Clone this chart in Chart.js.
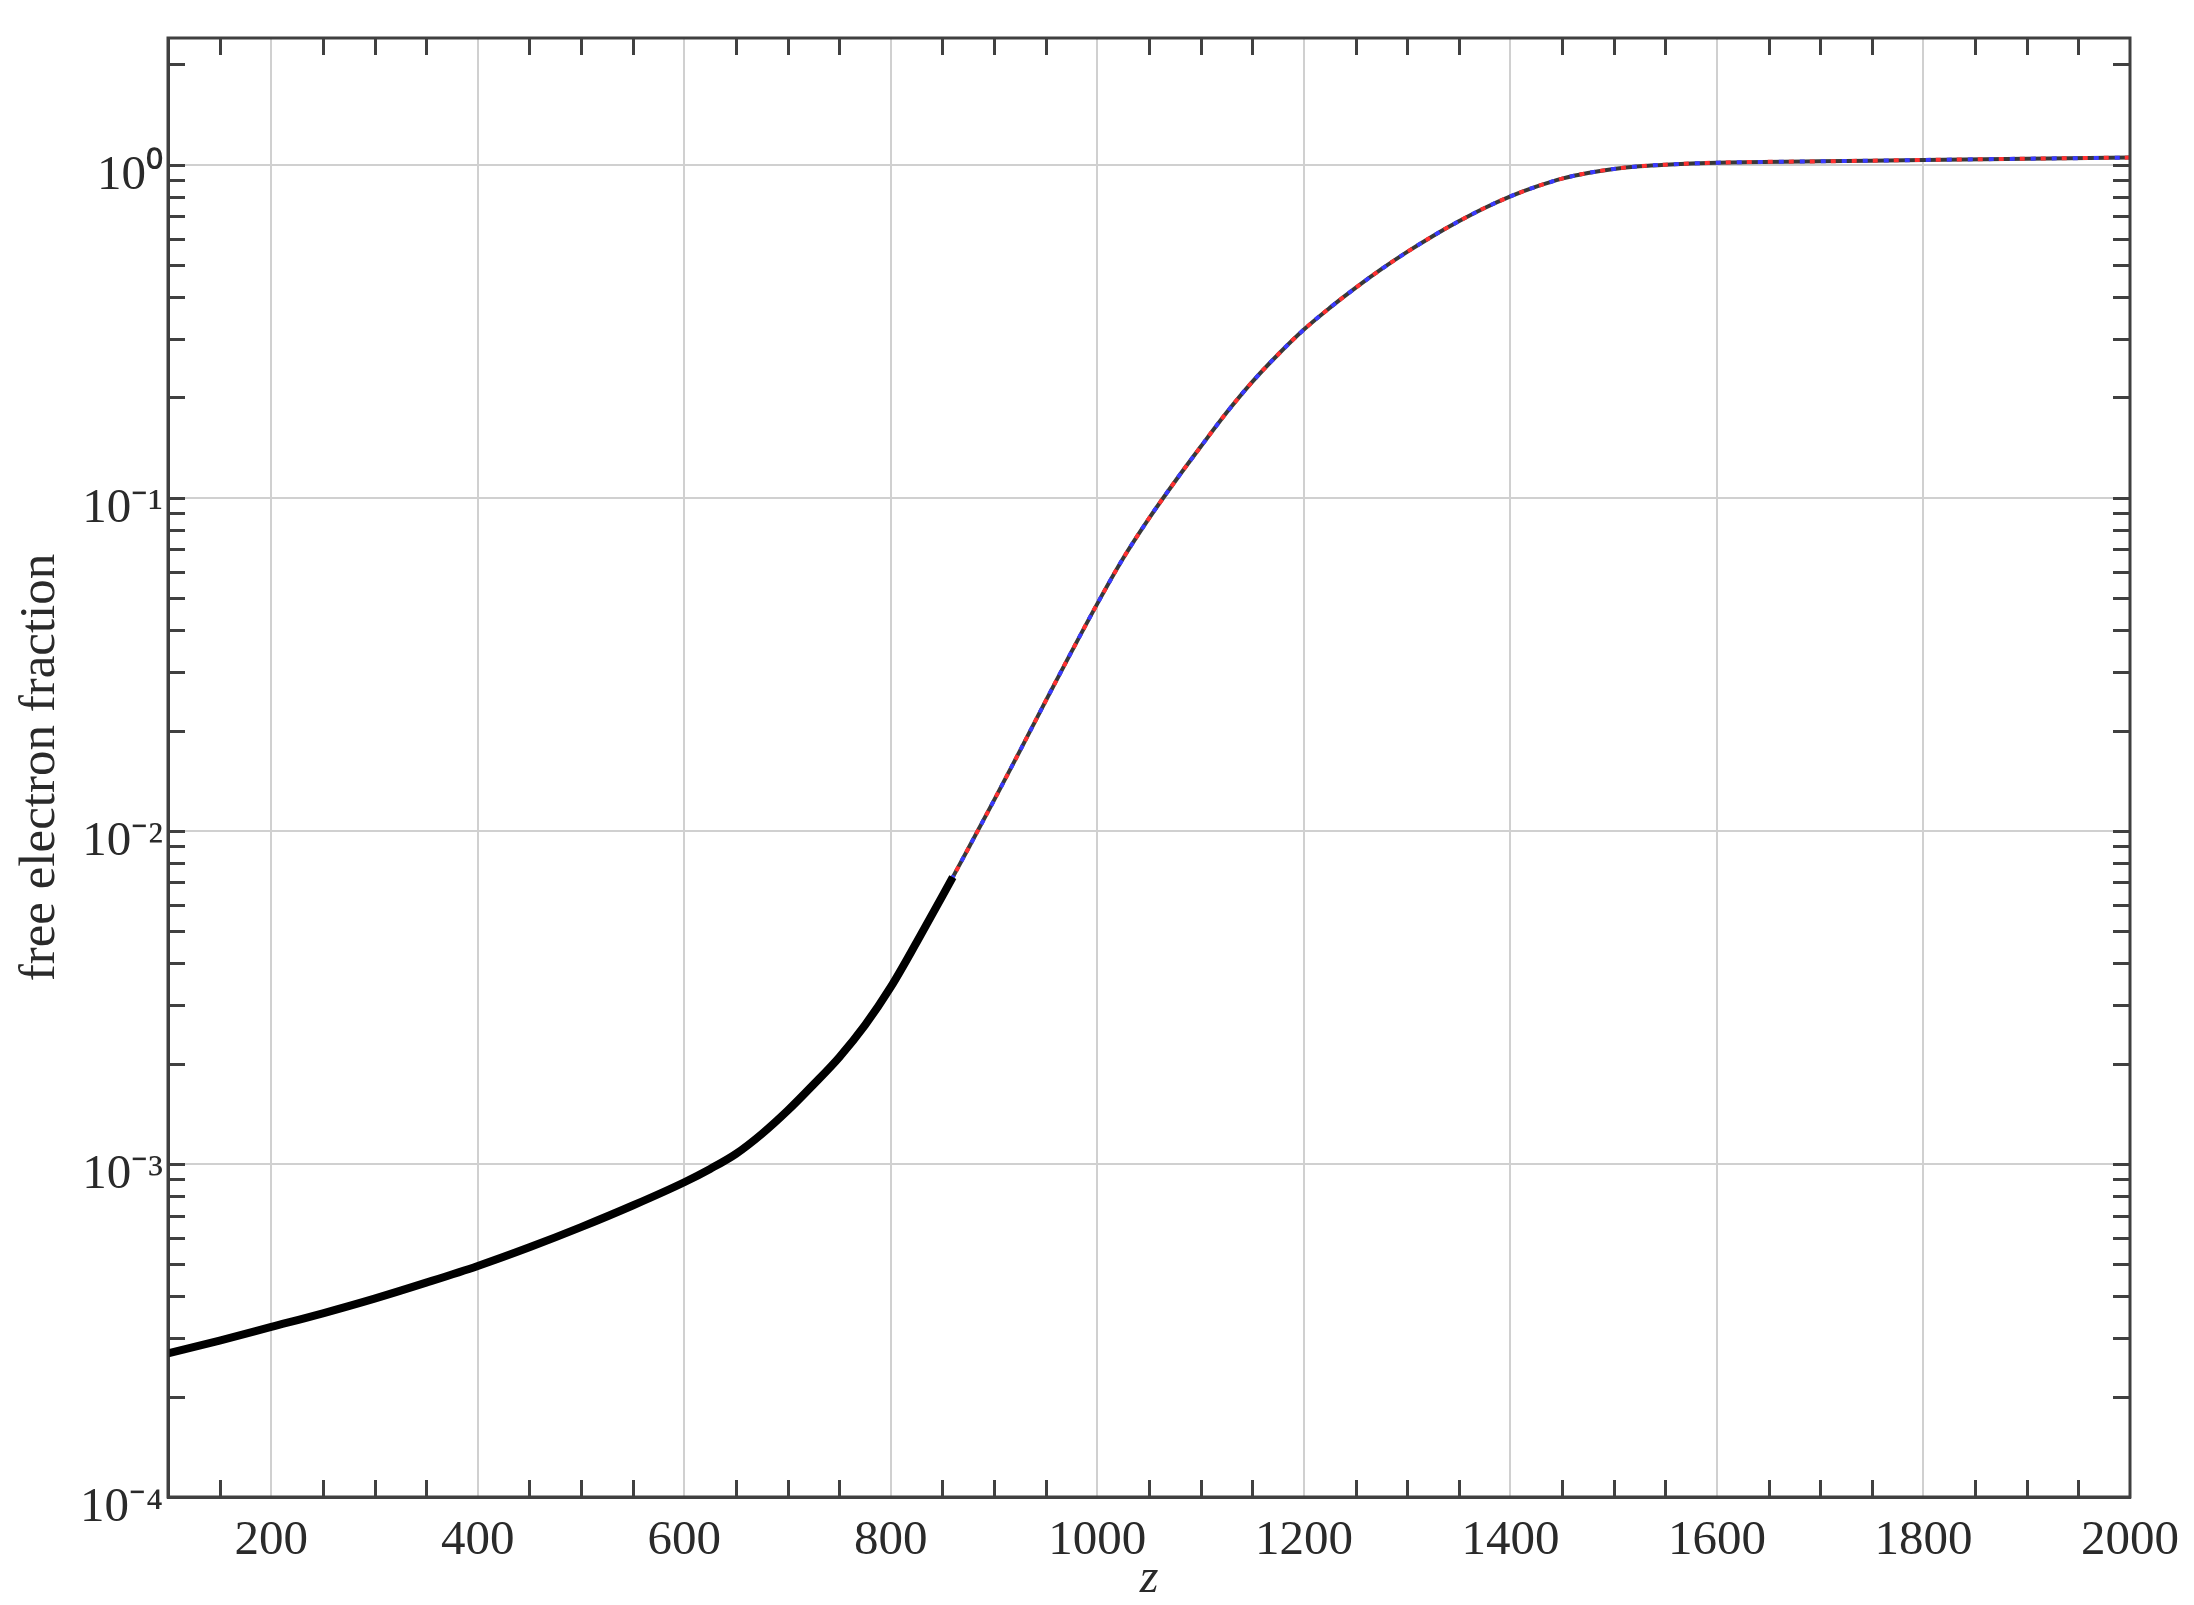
<!DOCTYPE html>
<html>
<head>
<meta charset="utf-8">
<script src="https://cdn.jsdelivr.net/npm/chart.js@4/dist/chart.umd.min.js"></script>
<style>
  html, body { margin: 0; padding: 0; background: #ffffff; }
  #wrap { width: 2194px; height: 1605px; }
</style>
</head>
<body>
<div id="wrap"><canvas id="c" width="2194" height="1605"></canvas></div>
<script>
// ---- data ----
const zValues = [100, 150, 200, 250, 300, 350, 400, 450, 500, 550, 600, 625, 650, 675, 700, 725, 750, 775, 800, 825, 850, 860,
  875, 900, 925, 950, 975, 1000, 1025, 1050, 1075, 1100, 1125, 1150, 1175, 1200, 1225, 1250, 1275, 1300, 1325, 1350, 1375, 1400,
  1425, 1450, 1475, 1500, 1525, 1550, 1600, 1700, 1800, 1900, 2000];
const electronFraction = [2.70e-4, 2.95e-4, 3.24e-4, 3.56e-4, 3.94e-4, 4.40e-4, 4.94e-4, 5.62e-4, 6.46e-4, 7.50e-4, 8.81e-4, 9.66e-4, 1.072e-3, 1.23e-3, 1.445e-3, 1.73e-3, 2.09e-3, 2.61e-3, 3.40e-3, 4.63e-3, 6.38e-3, 7.26e-3,
  8.85e-3, 0.01236, 0.01738, 0.02455, 0.0345, 0.0481, 0.0658, 0.0867, 0.1117, 0.1422, 0.1799, 0.2228, 0.2692, 0.3199, 0.3715, 0.4266, 0.4853, 0.547, 0.6109, 0.676, 0.7413, 0.8035,
  0.859, 0.908, 0.9441, 0.9705, 0.9886, 1.000, 1.014, 1.023, 1.033, 1.042, 1.050];
const blackEndZ = 860;   // thick black curve stops here
const xTickValues = [200, 400, 600, 800, 1000, 1200, 1400, 1600, 1800, 2000];
const yTickValues = [1e-4, 1e-3, 1e-2, 1e-1, 1];
const yTickLabels = ['10\u207B\u2074', '10\u207B\u00B3', '10\u207B\u00B2', '10\u207B\u00B9', '10\u2070'];
const xTitle = 'z';
const yTitle = 'free electron fraction';

const fullPts = zValues.map((z, i) => ({ x: z, y: electronFraction[i] }));
const blackPts = fullPts.filter(p => p.x <= blackEndZ);

const FONT = "'Liberation Serif', 'Times New Roman', serif";
const AXIS = '#404040';
const GRID = '#d0d0d0';

const frameTicks = {
  id: 'frameTicks',
  afterDraw(chart) {
    const { ctx, chartArea: a, scales } = chart;
    const xs = scales.x, ys = scales.y;
    const L = 17;
    ctx.save();
    ctx.strokeStyle = AXIS;
    ctx.lineWidth = 3;
    for (let v = 150; v < 2000; v += 50) {
      if (v % 200 === 0) continue;
      const px = Math.round(xs.getPixelForValue(v)) + 0.5;
      ctx.beginPath();
      ctx.moveTo(px, a.bottom); ctx.lineTo(px, a.bottom - L);
      ctx.moveTo(px, a.top); ctx.lineTo(px, a.top + L);
      ctx.stroke();
    }
    for (let e = -4; e <= 0; e++) {
      for (let k = 1; k <= 9; k++) {
        const v = k * Math.pow(10, e);
        if (v <= ys.min * 1.0001 || v > ys.max) continue;
        const py = Math.round(ys.getPixelForValue(v)) + 0.5;
        ctx.beginPath();
        ctx.moveTo(a.left, py); ctx.lineTo(a.left + L, py);
        ctx.moveTo(a.right, py); ctx.lineTo(a.right - L, py);
        ctx.stroke();
      }
    }
    ctx.strokeRect(a.left, a.top, a.right - a.left, a.bottom - a.top);
    ctx.restore();
  }
};

new Chart(document.getElementById('c'), {
  type: 'line',
  data: {
    datasets: [
      { label: 'black', data: blackPts, borderColor: '#000000', borderWidth: 8, pointRadius: 0, cubicInterpolationMode: 'monotone', order: 0 },
      { label: 'blue', data: fullPts, borderColor: '#3a3aff', borderWidth: 4, borderDash: [5, 16], borderDashOffset: 10, pointRadius: 0, cubicInterpolationMode: 'monotone', order: 1 },
      { label: 'red', data: fullPts, borderColor: '#ff3030', borderWidth: 4, borderDash: [5, 16], borderDashOffset: 0, pointRadius: 0, cubicInterpolationMode: 'monotone', order: 2 },
      { label: 'base', data: fullPts, borderColor: '#383838', borderWidth: 4, pointRadius: 0, cubicInterpolationMode: 'monotone', order: 3 }
    ]
  },
  options: {
    responsive: false,
    devicePixelRatio: 1,
    animation: false,
    layout: { padding: { left: 0, top: 38, right: 61, bottom: 0 } },
    plugins: { legend: { display: false }, tooltip: { enabled: false } },
    scales: {
      x: {
        type: 'linear', min: 100, max: 2000,
        afterBuildTicks: s => { s.ticks = xTickValues.map(v => ({ value: v })); },
        afterFit: s => { s.height = 108; },
        grid: { color: GRID, lineWidth: 2, drawTicks: false },
        border: { display: true, color: AXIS, width: 3 },
        ticks: { padding: 15, color: '#2a2a2a', font: { family: FONT, size: 49 }, maxRotation: 0, autoSkip: false,
          callback: (v) => String(v) },
        title: { display: true, text: xTitle, color: '#2a2a2a', font: { family: FONT, size: 48, style: 'italic', lineHeight: 1.0 }, padding: { top: 0, bottom: 2 } }
      },
      y: {
        type: 'logarithmic', min: 1e-4, max: 2.4,
        afterBuildTicks: s => { s.ticks = yTickValues.map(v => ({ value: v })); },
        afterFit: s => { s.width = 168; },
        grid: { color: GRID, lineWidth: 2, drawTicks: false },
        border: { display: true, color: AXIS, width: 3 },
        ticks: {
          padding: 5, labelOffset: 11, color: '#2a2a2a', font: { family: FONT, size: 49 }, autoSkip: false,
          callback: (v) => { const i = yTickValues.findIndex(t => Math.abs(t - v) / t < 1e-6); return i >= 0 ? yTickLabels[i] : ''; }
        },
        title: { display: true, text: yTitle, color: '#2a2a2a', font: { family: FONT, size: 51 }, padding: { top: 10, bottom: 0 } }
      }
    }
  },
  plugins: [frameTicks]
});
</script>
</body>
</html>
